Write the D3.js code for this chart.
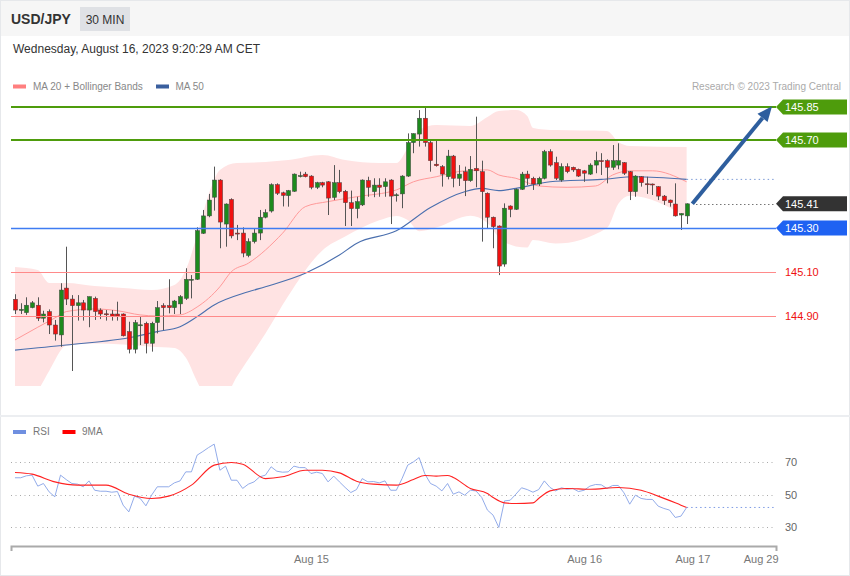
<!DOCTYPE html>
<html><head><meta charset="utf-8">
<script src="https://cdn.jsdelivr.net/npm/d3@7"></script>
<style>
html,body{margin:0;padding:0;background:#fff;}
svg{display:block;font-family:"Liberation Sans",Arial,Helvetica,sans-serif;}
</style></head><body>
<svg id="chart" width="850" height="576"></svg>
<script>
// ---------- DATA ----------
const opens = [144.976,144.925,144.915,144.938,144.949,144.890,144.920,144.859,144.814,145.027,
144.977,144.947,144.960,144.927,144.980,144.927,144.910,144.909,144.909,144.909,
144.829,144.749,144.858,144.867,144.776,144.870,144.947,144.947,144.938,144.955,
144.980,145.065,145.067,145.276,145.355,145.440,145.518,145.318,145.430,145.277,
145.277,145.175,145.238,145.277,145.349,145.377,145.497,145.460,145.447,145.467,
145.535,145.545,145.536,145.485,145.506,145.510,145.439,145.506,145.467,145.415,
145.388,145.405,145.516,145.465,145.495,145.488,145.518,145.449,145.455,145.536,
145.688,145.727,145.799,145.688,145.590,145.579,145.533,145.627,145.526,145.556,
145.515,145.571,145.556,145.458,145.349,145.309,145.136,145.400,145.385,145.476,
145.545,145.526,145.500,145.526,145.647,145.597,145.518,145.579,145.576,145.567,
145.560,145.545,145.586,145.606,145.606,145.576,145.586,145.597,145.556,145.465,
145.533,145.501,145.500,145.488,145.445,145.427,145.409,145.359,145.355];
const highs = [144.999,144.958,144.985,144.968,144.985,144.924,144.930,144.882,145.049,145.215,
144.995,144.995,144.973,144.988,144.988,144.935,144.927,144.927,144.965,144.912,
144.874,144.882,144.897,144.874,144.874,144.968,144.958,145.067,144.973,144.995,
145.117,145.086,145.303,145.382,145.455,145.579,145.522,145.412,145.435,145.314,
145.303,145.253,145.299,145.382,145.385,145.503,145.503,145.465,145.473,145.548,
145.556,145.555,145.540,145.510,145.510,145.513,145.586,145.564,145.473,145.470,
145.442,145.521,145.533,145.526,145.526,145.526,145.522,145.458,145.540,145.730,
145.730,145.836,145.851,145.700,145.700,145.586,145.655,145.632,145.586,145.579,
145.627,145.806,145.606,145.462,145.352,145.312,145.412,145.403,145.480,145.555,
145.560,145.533,145.533,145.655,145.658,145.624,145.594,145.594,145.579,145.570,
145.564,145.594,145.647,145.640,145.612,145.677,145.685,145.600,145.559,145.540,
145.536,145.533,145.502,145.490,145.450,145.429,145.503,145.367,145.412];
const lows = [144.909,144.909,144.905,144.935,144.877,144.871,144.818,144.788,144.760,144.950,
144.650,144.879,144.879,144.849,144.882,144.886,144.879,144.879,144.879,144.807,
144.730,144.730,144.768,144.730,144.738,144.821,144.836,144.912,144.909,144.909,
144.973,144.980,145.064,145.273,145.349,145.379,145.208,145.215,145.253,145.245,
145.167,145.167,145.230,145.245,145.344,145.370,145.450,145.398,145.397,145.464,
145.530,145.530,145.476,145.477,145.485,145.359,145.427,145.458,145.309,145.309,
145.344,145.400,145.442,145.440,145.442,145.442,145.318,145.420,145.390,145.532,
145.640,145.670,145.670,145.556,145.579,145.488,145.521,145.485,145.491,145.445,
145.510,145.485,145.238,145.299,145.208,145.086,145.124,145.349,145.382,145.473,
145.495,145.473,145.491,145.521,145.579,145.518,145.510,145.549,145.555,145.532,
145.510,145.541,145.549,145.541,145.503,145.564,145.567,145.541,145.427,145.442,
145.488,145.455,145.450,145.427,145.405,145.397,145.352,145.291,145.318];
const closes = [144.927,144.930,144.949,144.960,144.890,144.909,144.859,144.818,145.018,144.977,
144.947,144.960,144.927,144.988,144.920,144.909,144.908,144.897,144.900,144.810,
144.749,144.870,144.860,144.776,144.867,144.938,144.938,144.938,144.968,144.988,
145.067,145.067,145.288,145.355,145.427,145.518,145.327,145.409,145.264,145.274,
145.186,145.238,145.277,145.349,145.370,145.497,145.458,145.448,145.470,145.545,
145.538,145.533,145.485,145.506,145.495,145.436,145.506,145.465,145.415,145.388,
145.420,145.518,145.485,145.495,145.485,145.510,145.445,145.451,145.536,145.688,
145.729,145.799,145.688,145.606,145.583,145.545,145.627,145.526,145.545,145.515,
145.567,145.560,145.465,145.349,145.306,145.127,145.390,145.385,145.476,145.545,
145.526,145.500,145.526,145.647,145.586,145.526,145.579,145.556,145.564,145.536,
145.549,145.586,145.606,145.603,145.576,145.606,145.606,145.549,145.465,145.536,
145.506,145.499,145.497,145.445,145.424,145.415,145.355,145.366,145.410];

const bandIdx   = [0,4,6,9,14,19,24,28,30,32,34,36,39,44,48,54,58,64,67,69,71,74,80,83,85,88,90,91,95,104,106,108,118];
const bandUpper = [145.123,145.109,145.050,145.050,145.036,145.027,145.018,145.041,145.109,145.268,145.450,145.564,145.595,145.600,145.609,145.632,145.609,145.595,145.595,145.664,145.745,145.768,145.764,145.805,145.832,145.836,145.809,145.755,145.745,145.741,145.691,145.673,145.668];
const bandLower = [144.459,144.560,144.650,144.765,144.775,144.770,144.760,144.755,144.711,144.602,144.510,144.502,144.625,144.820,144.991,145.198,145.261,145.335,145.355,145.336,145.285,145.302,145.356,145.323,145.258,145.216,145.211,145.245,145.229,145.300,145.410,145.447,145.352];

const ma20Idx = [0,4,7,9,14,18,22,25,29,32,36,38,41,47,51,55,60,67,70,74,79,83,85,88,92,97,102,105,108,112,118];
const ma20Val = [144.791,144.849,144.891,144.920,144.932,144.924,144.905,144.900,144.905,144.941,145.033,145.101,145.140,145.276,145.397,145.420,145.442,145.473,145.510,145.533,145.560,145.564,145.541,145.526,145.491,145.485,145.491,145.541,145.560,145.560,145.510];

const ma50Idx = [0,9,21,25,29,32,35,41,44,51,57,60,67,73,79,82,85,88,94,103,109,118];
const ma50Val = [144.745,144.768,144.806,144.829,144.851,144.897,144.950,145.010,145.033,145.094,145.177,145.230,145.287,145.393,145.465,145.480,145.470,145.480,145.510,145.521,145.533,145.521];

const rsi = [60.2,60.2,61.4,61.8,55.1,56.7,51.6,48.6,61.8,59.1,
56.7,56.3,54.7,58.3,52.6,52.0,52.0,51.4,51.8,43.5,
39.4,49.0,47.6,43.1,49.6,54.7,54.7,54.7,57.1,58.3,
63.8,63.8,74.0,76.2,78.6,80.7,64.8,67.3,58.7,58.7,
53.7,56.3,57.7,60.8,61.8,66.9,64.2,63.6,63.8,67.3,
66.4,66.4,62.8,63.6,62.8,57.7,61.2,57.7,54.3,51.2,
53.0,59.7,57.7,57.9,57.1,58.3,52.6,52.6,59.7,67.9,
69.9,72.5,62.6,56.7,55.1,52.2,56.7,50.2,51.6,49.6,
52.6,52.2,48.2,40.5,37.4,29.9,46.1,46.5,50.2,54.1,
53.0,51.4,53.0,58.3,54.3,52.2,54.1,53.2,53.7,51.8,
52.6,55.1,56.1,55.9,53.7,55.5,55.5,51.0,44.1,49.6,
47.6,47.0,47.0,42.9,41.5,40.5,36.0,36.8,42.1];
const ma9Idx = [0,3,7,11,16,20,24,27,31,35,38,40,44,47,51,54,57,60,63,67,70,72,74,76,77,80,83,84,86,88,91,92,94,97,101,106,110,113,117,118];
const ma9Val = [63.4,62.4,57.7,55.7,55.7,50.2,47.6,49.0,55.7,67.9,69.5,68.5,59.7,60.8,64.8,64.8,63.2,58.1,56.3,55.7,59.1,61.6,61.2,61.6,60.4,53.7,50.6,48.2,44.9,44.5,44.9,47.6,52.2,53.7,53.2,54.3,52.6,49.0,43.5,42.1];
const rsiTicks = [70,50,30];

const levelValues = [145.85,145.70,145.41,145.30,145.10,144.90];
const levelKinds  = ["res","res","last","sup","pivot","pivot"];

const xTickIdx = [52,100,119,131];
const xTickLabels = ["Aug 15","Aug 16","Aug 17","Aug 29"];

const arrowFrom = [119,145.41];
const arrowTo   = [133,145.853];

// ---------- SCALES ----------
const svg = d3.select("#chart");
const x  = d3.scaleLinear().domain([-0.7,133.7]).range([11,776]);
const y  = d3.scaleLinear().domain([144.90,145.85]).range([316,107]);
const yR = d3.scaleLinear().domain([30,70]).range([527.3,461.7]);
const nC = closes.length;

// ---------- FRAME ----------
svg.append("rect").attr("x",0).attr("y",0).attr("width",850).attr("height",36).attr("fill","#f6f6f6");
svg.append("rect").attr("x",0.5).attr("y",0.5).attr("width",849).attr("height",575).attr("fill","none").attr("stroke","#e6e8eb");
svg.append("rect").attr("x",0).attr("y",415).attr("width",850).attr("height",2).attr("fill","#eceef1");

svg.append("text").attr("x",11).attr("y",24).attr("font-size",14).attr("font-weight","bold").attr("fill","#333").text("USD/JPY");
svg.append("rect").attr("x",80).attr("y",7).attr("width",50).attr("height",24).attr("fill","#dfe1e5");
svg.append("text").attr("x",105).attr("y",23.5).attr("text-anchor","middle").attr("font-size",12).attr("fill","#333").text("30 MIN");
svg.append("text").attr("x",13).attr("y",53).attr("font-size",12).attr("fill","#333").text("Wednesday, August 16, 2023 9:20:29 AM CET");

// legend
svg.append("rect").attr("x",13).attr("y",84.5).attr("width",13).attr("height",4).attr("fill","#ff7f7f");
svg.append("text").attr("x",33).attr("y",90).attr("font-size",10).attr("fill","#888").text("MA 20 + Bollinger Bands");
svg.append("rect").attr("x",156).attr("y",84.5).attr("width",13).attr("height",4).attr("fill","#3a5f9e");
svg.append("text").attr("x",175.5).attr("y",90).attr("font-size",10).attr("fill","#888").text("MA 50");
svg.append("text").attr("x",841).attr("y",90).attr("text-anchor","end").attr("font-size",10).attr("fill","#aaa").text("Research © 2023 Trading Central");

// ---------- MAIN PLOT ----------
svg.append("clipPath").attr("id","plotclip").append("rect").attr("x",11).attr("y",95).attr("width",765).attr("height",291);
const plot = svg.append("g").attr("clip-path","url(#plotclip)");

const band = bandIdx.map((d,i)=>({i:d,u:bandUpper[i],l:bandLower[i]}));
plot.append("path").datum(band)
  .attr("d", d3.area().x(d=>x(d.i)).y0(d=>y(d.l)).y1(d=>y(d.u)).curve(d3.curveMonotoneX))
  .attr("fill","#ffe3e3");

const lineP = d3.line().x(d=>x(d[0])).y(d=>y(d[1])).curve(d3.curveMonotoneX);
plot.append("path").datum(ma20Idx.map((d,i)=>[d,ma20Val[i]])).attr("d",lineP)
  .attr("fill","none").attr("stroke","#ff9a9a").attr("stroke-width",1);
plot.append("path").datum(ma50Idx.map((d,i)=>[d,ma50Val[i]])).attr("d",lineP)
  .attr("fill","none").attr("stroke","#4a6fae").attr("stroke-width",1.1);
// MA50 dotted projection
svg.append("line").attr("x1",x(nC-1)).attr("x2",776).attr("y1",y(ma50Val[ma50Val.length-1])).attr("y2",y(ma50Val[ma50Val.length-1]))
  .attr("stroke","#7d9bd6").attr("stroke-width",1).attr("stroke-dasharray","1.5,3");

// level lines
const lvlStyle = {
  res:  {stroke:"#4e9c0c", w:2,   box:"#4e9c0c", text:"#fff"},
  last: {stroke:"#333",    w:1,   box:"#333333", text:"#fff", dash:"1,3"},
  sup:  {stroke:"#3f7cf2", w:1.5, box:"#1f62f2", text:"#fff"},
  pivot:{stroke:"#ff8a8a", w:1.2, box:null,      text:"#ee1111"}
};
levelValues.forEach((v,i)=>{
  const s = lvlStyle[levelKinds[i]];
  const yy = Math.round(y(v))+ (s.w===2?0:0.5);
  svg.append("line").attr("x1", levelKinds[i]==="last" ? x(arrowFrom[0])+4 : 11).attr("x2",776)
    .attr("y1",yy).attr("y2",yy).attr("stroke",s.stroke).attr("stroke-width",s.w)
    .attr("stroke-dasharray",s.dash||null);
  if (s.box) {
    const h=15, cy=y(v);
    svg.append("path").attr("d",`M776,${cy} L783,${cy-h/2} L847,${cy-h/2} L847,${cy+h/2} L783,${cy+h/2} Z`).attr("fill",s.box);
  }
  svg.append("text").attr("x",785).attr("y",y(v)+4).attr("font-size",11).attr("fill",s.text).text(v.toFixed(2));
});

// candles
const cw = 4.2;
const cg = plot.append("g");
d3.range(nC).forEach(i=>{
  const up = closes[i] >= opens[i];
  const cx = Math.round(x(i))+0.5;
  cg.append("line").attr("x1",cx).attr("x2",cx).attr("y1",y(highs[i])).attr("y2",y(lows[i]))
    .attr("stroke","#555").attr("stroke-width",1);
  const top = y(Math.max(opens[i],closes[i])), bot = y(Math.min(opens[i],closes[i]));
  cg.append("rect").attr("x",cx-cw/2).attr("y",top).attr("width",cw).attr("height",Math.max(1,bot-top))
    .attr("fill", up ? "#1d8a1d" : "#f01010").attr("stroke","#444").attr("stroke-width",0.5);
});

// projection arrow
{
  const x1=x(arrowFrom[0]), y1=y(arrowFrom[1]), x2=x(arrowTo[0]), y2=y(arrowTo[1]);
  const ang=Math.atan2(y2-y1,x2-x1), hl=15, hw=6.5;
  const bx=x2-hl*Math.cos(ang), by=y2-hl*Math.sin(ang);
  svg.append("line").attr("x1",x1).attr("y1",y1).attr("x2",bx).attr("y2",by)
    .attr("stroke","#2e5e9e").attr("stroke-width",4).attr("stroke-linecap","butt");
  const px=-Math.sin(ang), py=Math.cos(ang);
  svg.append("path").attr("d",`M${x2},${y2} L${bx+px*hw},${by+py*hw} L${bx-px*hw},${by-py*hw} Z`).attr("fill","#2e5e9e");
}

// ---------- RSI PANEL ----------
svg.append("rect").attr("x",13).attr("y",430).attr("width",13).attr("height",4).attr("fill","#6f8fe0");
svg.append("text").attr("x",33).attr("y",435).attr("font-size",10).attr("fill","#777").text("RSI");
svg.append("rect").attr("x",62.5).attr("y",430).attr("width",13).attr("height",4).attr("fill","#f00");
svg.append("text").attr("x",82).attr("y",435).attr("font-size",10).attr("fill","#777").text("9MA");

rsiTicks.forEach(t=>{
  svg.append("line").attr("x1",11).attr("x2",776).attr("y1",Math.round(yR(t))+0.5).attr("y2",Math.round(yR(t))+0.5)
    .attr("stroke","#aaa").attr("stroke-width",1).attr("stroke-dasharray","1,3.5");
  svg.append("text").attr("x",785).attr("y",yR(t)+4).attr("font-size",11).attr("fill","#666").text(t);
});

svg.append("path").datum(rsi).attr("d", d3.line().x((d,i)=>x(i)).y(d=>yR(d)))
  .attr("fill","none").attr("stroke","#86a1e6").attr("stroke-width",0.9);
svg.append("path").datum(ma9Idx.map((d,i)=>[d,ma9Val[i]]))
  .attr("d", d3.line().x(d=>x(d[0])).y(d=>yR(d[1])).curve(d3.curveMonotoneX))
  .attr("fill","none").attr("stroke","#ff2222").attr("stroke-width",1.1);
svg.append("line").attr("x1",x(nC-1)).attr("x2",776).attr("y1",yR(rsi[nC-1])).attr("y2",yR(rsi[nC-1]))
  .attr("stroke","#7e9be4").attr("stroke-width",1).attr("stroke-dasharray","1.5,3");

// x axis
const xa = svg.append("g").attr("transform","translate(0,546)")
  .call(d3.axisBottom(x).tickValues(xTickIdx).tickFormat((d,i)=>xTickLabels[i]).tickSizeInner(0).tickSizeOuter(5).tickPadding(9));
xa.select(".domain").attr("stroke","#aaa").attr("stroke-width",2);
xa.selectAll("text").attr("font-size",11).attr("fill","#777").attr("font-family","Liberation Sans, Arial, sans-serif");
</script>
</body></html>
